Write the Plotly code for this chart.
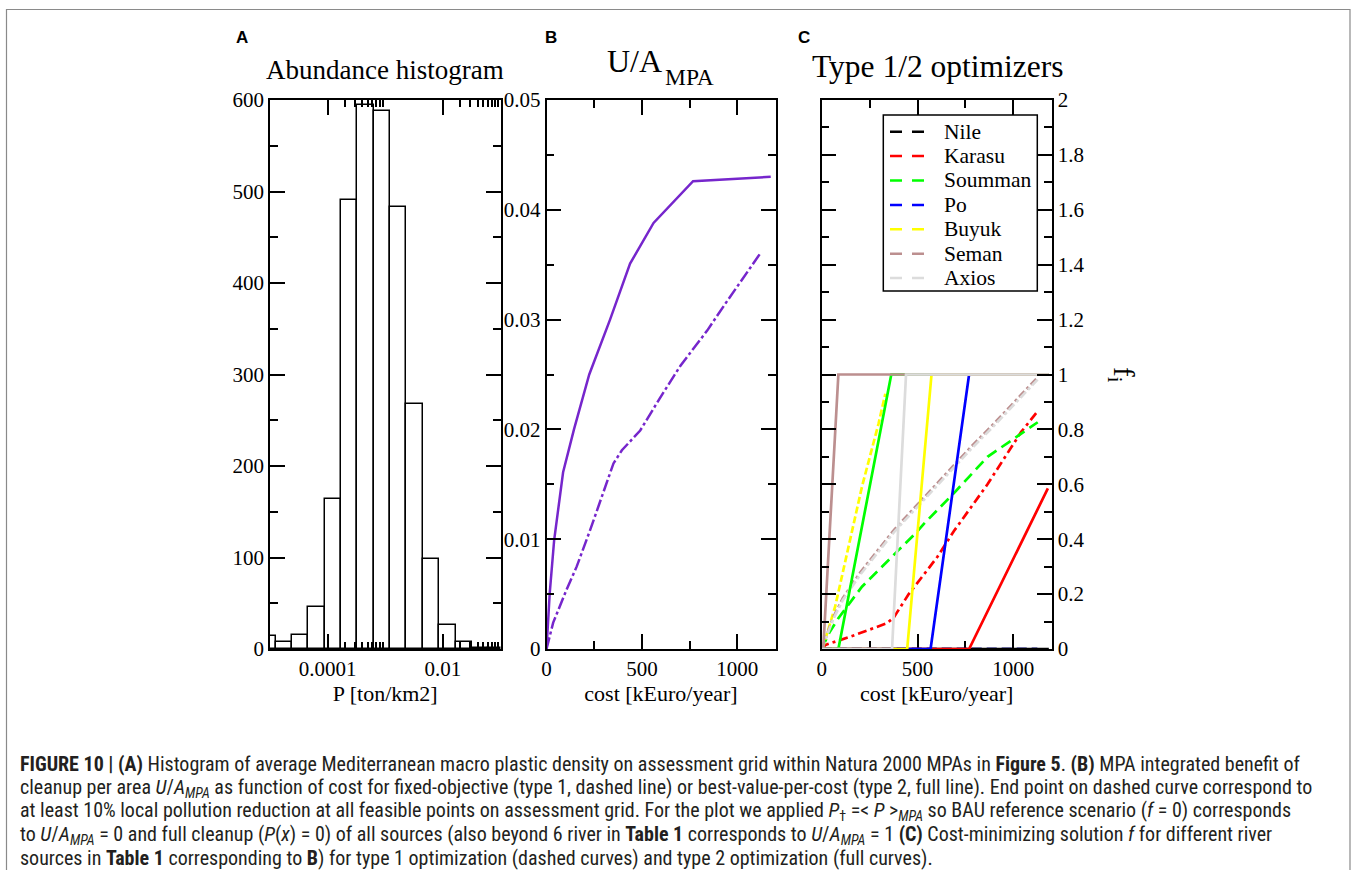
import numpy as np
import plotly.graph_objects as go

W, H = 1358, 870

# ---------------- Panel A: abundance histogram ----------------
bin_lo_log10 = [-5.188, -4.904, -4.620, -4.336, -4.052, -3.768, -3.484, -3.200,
                -2.916, -2.632, -2.348, -2.064, -1.780, -1.496, -1.212]
bin_width_log10 = 0.284
counts = [14, 8, 15, 46, 164, 491, 595, 588, 483, 268, 98, 26, 8, 1, 1]
a_major_P = [1e-4, 1e-2]
a_major_labels = ["0.0001", "0.01"]
a_minor_P = [2e-4, 3e-4, 4e-4, 5e-4, 6e-4, 7e-4, 8e-4, 9e-4,
             2e-2, 3e-2, 4e-2, 5e-2, 6e-2, 7e-2, 8e-2, 9e-2]

# ---------------- Panel B: U/A_MPA vs cost ----------------
cost_type2 = [0, 17, 40, 87, 144, 224, 333, 438, 561, 768, 1175]
U_type2 = [0, 0.0051, 0.0099, 0.0161, 0.0200, 0.0250, 0.0300, 0.0351, 0.0388, 0.0426, 0.0430]
cost_type1 = [0, 35, 105, 158, 228, 281, 351, 395, 491, 596, 702, 842, 947, 1123]
U_type1 = [0, 0.0024, 0.0054, 0.0075, 0.0108, 0.0135, 0.0169, 0.0181, 0.0199, 0.0229,
           0.0258, 0.0290, 0.0317, 0.0361]

# ---------------- Panel C: optimizer solutions f_i ----------------
rivers = ["Nile", "Karasu", "Soumman", "Po", "Buyuk", "Seman", "Axios"]
river_colors = ["#000000", "#ff0000", "#00ff00", "#0000ff", "#ffff00", "#bc8f8f", "#dcdcdc"]

t1_cost = {
    "Nile": [0, 1125],
    "Karasu": [0, 20, 150, 341, 376, 454, 515, 603, 690, 865, 1040, 1125],
    "Soumman": [0, 40, 87, 210, 402, 489, 533, 647, 690, 865, 1075, 1127],
    "Po": [0, 1125],
    "Buyuk": [0, 8, 70, 140, 210, 297, 332],
    "Seman": [0, 60, 110, 200, 380, 520, 650, 780, 900, 1127],
    "Axios": [0, 60, 110, 200, 380, 520, 650, 780, 900, 1127],
}
t1_f = {
    "Nile": [0, 0],
    "Karasu": [0, 0.015, 0.045, 0.094, 0.115, 0.200, 0.255, 0.335, 0.430, 0.600, 0.790, 0.865],
    "Soumman": [0, 0.060, 0.112, 0.227, 0.361, 0.421, 0.456, 0.537, 0.568, 0.700, 0.800, 0.826],
    "Po": [0, 0],
    "Buyuk": [0, 0.010, 0.154, 0.373, 0.591, 0.822, 0.930],
    "Seman": [0, 0.115, 0.185, 0.278, 0.436, 0.542, 0.642, 0.737, 0.822, 0.990],
    "Axios": [0, 0.108, 0.178, 0.270, 0.428, 0.534, 0.634, 0.729, 0.814, 0.982],
}
t2_cost = {
    "Nile": [0, 1185],
    "Karasu": [0, 769, 1180],
    "Soumman": [0, 87, 363, 1185],
    "Po": [0, 568, 769, 1185],
    "Buyuk": [0, 446, 573, 1185],
    "Seman": [0, 8, 87, 1185],
    "Axios": [0, 367, 440, 1185],
}
t2_f = {
    "Nile": [0, 0],
    "Karasu": [0, 0, 0.585],
    "Soumman": [0, 0, 1, 1],
    "Po": [0, 0, 1, 1],
    "Buyuk": [0, 0, 1, 1],
    "Seman": [0, 0, 1, 1],
    "Axios": [0, 0, 1, 1],
}
t1_dash = {"Nile": "10px,5px", "Karasu": "9px,4px,3px,4px", "Soumman": "11px,6px",
           "Po": "10px,5px", "Buyuk": "7px,3px", "Seman": "8px,3px,3px,3px",
           "Axios": "8px,3px,3px,3px"}

SERIF = "Liberation Serif"
SANS = "Liberation Sans"
NARROW = "Roboto Condensed, Liberation Sans Narrow, Liberation Sans"


def px(x):
    return x / W


def py(y):
    return 1 - y / H


fig = go.Figure()

# Panel A bars (positions on a log10 axis)
centers = [lo + bin_width_log10 / 2 for lo in bin_lo_log10]
fig.add_trace(go.Bar(x=centers, y=counts, width=bin_width_log10,
                     marker=dict(color="white", line=dict(color="black", width=1.5)),
                     xaxis="x", yaxis="y", showlegend=False))

# Panel B
purple = "rgb(118,38,204)"
fig.add_trace(go.Scatter(x=cost_type2, y=U_type2, mode="lines",
                         line=dict(color=purple, width=2.5),
                         xaxis="x2", yaxis="y2", showlegend=False))
fig.add_trace(go.Scatter(x=cost_type1, y=U_type1, mode="lines",
                         line=dict(color=purple, width=2.5, dash="12px,3px,3px,3px"),
                         xaxis="x2", yaxis="y2", showlegend=False))

# Panel C: type 1 (dashed) then type 2 (solid)
for r, c in zip(rivers, river_colors):
    fig.add_trace(go.Scatter(x=t1_cost[r], y=t1_f[r], mode="lines", name=r,
                             line=dict(color=c, width=2.7, dash=t1_dash[r]),
                             xaxis="x3", yaxis="y3", showlegend=False, cliponaxis=False))
for r, c in zip(rivers, river_colors):
    fig.add_trace(go.Scatter(x=t2_cost[r], y=t2_f[r], mode="lines", name=r + " (type 2)",
                             line=dict(color=c, width=2.7),
                             xaxis="x3", yaxis="y3", showlegend=False, cliponaxis=False))


def axis(**kw):
    d = dict(showline=True, linecolor="black", linewidth=1.5, mirror="ticks",
             ticks="inside", ticklen=15, tickwidth=1.5, tickcolor="black",
             showgrid=False, zeroline=False, automargin=False,
             tickfont=dict(family=SERIF, size=21, color="black"))
    d.update(kw)
    return d


def minor(**kw):
    d = dict(ticks="inside", ticklen=8, tickwidth=1.5, tickcolor="black", showgrid=False)
    d.update(kw)
    return d


ydom = [py(649), py(100)]
title_font = dict(family=SERIF, size=22, color="black")

fig.update_layout(
    template="none",
    width=W, height=H, margin=dict(l=0, r=0, t=0, b=0, pad=0, autoexpand=False),
    paper_bgcolor="white", plot_bgcolor="white",
    font=dict(family=SERIF, color="black"),
    showlegend=False,
    xaxis=axis(domain=[px(270), px(500.5)], range=[-5, -1], anchor="y",
               tickmode="array", tickvals=list(np.log10(a_major_P)), ticktext=a_major_labels,
               minor=minor(tickmode="array", tickvals=list(np.log10(a_minor_P)), ticklen=7),
               title=dict(text="P [ton/km2]", font=title_font, standoff=4)),
    yaxis=axis(domain=ydom, range=[0, 600], dtick=100, anchor="x",
               minor=minor(dtick=50)),
    xaxis2=axis(domain=[px(546.5), px(775.5)], range=[0, 1200], dtick=500, anchor="y2",
                minor=minor(dtick=250),
                title=dict(text="cost [kEuro/year]", font=title_font, standoff=4)),
    yaxis2=axis(domain=ydom, range=[0, 0.05], dtick=0.01, anchor="x2",
                minor=minor(dtick=0.005)),
    xaxis3=axis(domain=[px(821.7), px(1051.7)], range=[0, 1200], dtick=500, anchor="y3",
                minor=minor(dtick=250), layer="below traces",
                title=dict(text="cost [kEuro/year]", font=title_font, standoff=4)),
    yaxis3=axis(domain=ydom, range=[0, 2], dtick=0.2, anchor="x3", side="right",
                minor=minor(dtick=0.1)),
    bargap=0,
)

ann = []
shapes = []

# panel letters
for letter, x in [("A", 242), ("B", 551.3), ("C", 804)]:
    ann.append(dict(text="<b>%s</b>" % letter, x=px(x), y=py(37), xref="paper", yref="paper",
                    showarrow=False, xanchor="center", yanchor="middle",
                    font=dict(family=SANS, size=17, color="black")))
# panel titles
ann.append(dict(text="Abundance histogram", x=px(385), y=py(70), xref="paper", yref="paper",
                showarrow=False, xanchor="center", yanchor="middle",
                font=dict(family=SERIF, size=27, color="black")))
ann.append(dict(text="U/A", x=px(664), y=py(61.5), xref="paper", yref="paper",
                showarrow=False, xanchor="right", yanchor="middle",
                font=dict(family=SERIF, size=32, color="black")))
ann.append(dict(text="MPA", x=px(663), y=py(77.5), xref="paper", yref="paper",
                showarrow=False, xanchor="left", yanchor="middle",
                font=dict(family=SERIF, size=23.5, color="black")))
ann.append(dict(text="Type 1/2 optimizers", x=px(938), y=py(66), xref="paper", yref="paper",
                showarrow=False, xanchor="center", yanchor="middle",
                font=dict(family=SERIF, size=31.5, color="black")))
# right axis label of C
ann.append(dict(text="f<sub>i</sub>", x=px(1122), y=py(375), xref="paper", yref="paper",
                showarrow=False, xanchor="center", yanchor="middle", textangle=90,
                font=dict(family=SERIF, size=29, color="black")))

# legend of panel C (type 1 line style)
shapes.append(dict(type="rect", xref="paper", yref="paper", x0=px(883.3), x1=px(1037.3),
                   y0=py(291), y1=py(115), line=dict(color="black", width=1.5),
                   fillcolor="white", layer="above"))
for k, (r, c) in enumerate(zip(rivers, river_colors)):
    yy = 131.7 + 24.4 * k
    shapes.append(dict(type="line", xref="paper", yref="paper", x0=px(890), x1=px(924),
                       y0=py(yy), y1=py(yy), line=dict(color=c, width=2.5, dash="12px,10px"),
                       layer="above"))
    ann.append(dict(text=r, x=px(941.7), y=py(yy), xref="paper", yref="paper",
                    showarrow=False, xanchor="left", yanchor="middle",
                    font=dict(family=SERIF, size=21.5, color="black")))

# outer frame
shapes.append(dict(type="rect", xref="paper", yref="paper", x0=px(6.5), x1=px(1350),
                   y0=py(875), y1=py(9.5), line=dict(color="#8a8a8a", width=1.2),
                   layer="below"))

caption_lines = [
    "<b>FIGURE 10 | (A)</b> Histogram of average Mediterranean macro plastic density on assessment grid within Natura 2000 MPAs in <b>Figure 5</b>. <b>(B)</b> MPA integrated benefit of",
    "cleanup per area <i>U</i>/<i>A<sub>MPA</sub></i> as function of cost for fixed-objective (type 1, dashed line) or best-value-per-cost (type 2, full line). End point on dashed curve correspond to",
    "at least 10% local pollution reduction at all feasible points on assessment grid. For the plot we applied <i>P</i><sub>†</sub> =&lt; <i>P</i> &gt;<sub><i>MPA</i></sub> so BAU reference scenario (<i>f</i> = 0) corresponds",
    "to <i>U</i>/<i>A<sub>MPA</sub></i> = 0 and full cleanup (<i>P</i>(<i>x</i>) = 0) of all sources (also beyond 6 river in <b>Table 1</b> corresponds to <i>U</i>/<i>A<sub>MPA</sub></i> = 1 <b>(C)</b> Cost-minimizing solution <i>f</i> for different river",
    "sources in <b>Table 1</b> corresponding to <b>B</b>) for type 1 optimization (dashed curves) and type 2 optimization (full curves).",
]
for k, line in enumerate(caption_lines):
    ann.append(dict(text=line, x=px(18), y=py(764 + 23.6 * k), xref="paper", yref="paper",
                    showarrow=False, xanchor="left", yanchor="middle", align="left",
                    font=dict(family=NARROW, size=20, color="#231f20")))

fig.update_layout(annotations=ann, shapes=shapes)

fig.write_html("out.html", config={"displayModeBar": False},
               post_script="document.body.style.margin='0';")
